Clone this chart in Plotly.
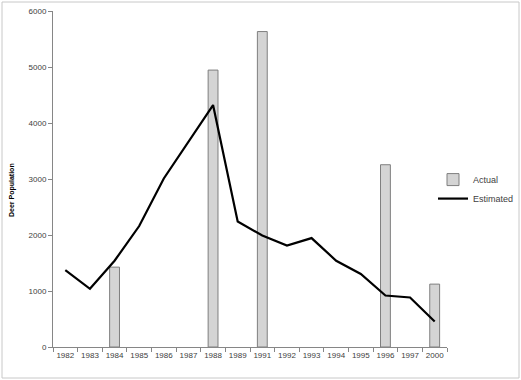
import plotly.graph_objects as go

categories = ["1982", "1983", "1984", "1985", "1986", "1987", "1988", "1989",
              "1991", "1992", "1993", "1994", "1995", "1996", "1997", "2000"]
estimated = [1373, 1040, 1540, 2160, 3010, 3660, 4320, 2240,
             1990, 1810, 1945, 1540, 1305, 920, 885, 455]
actual_years = ["1984", "1988", "1991", "1996", "2000"]
actual_values = [1426, 4945, 5633, 3255, 1123]
y_ticks = [0, 1000, 2000, 3000, 4000, 5000, 6000]

W, H = 521, 380
L, R, T, B = 53, 74, 11, 33
pw, ph = W - L - R, H - T - B

fig = go.Figure()
fig.add_trace(go.Bar(
    x=actual_years, y=actual_values, name="Actual", width=0.4,
    marker=dict(color="#d4d4d4", line=dict(color="#7f7f7f", width=1)),
))
fig.add_trace(go.Scatter(
    x=categories, y=estimated, name="Estimated", mode="lines",
    line=dict(color="black", width=2.2),
))

axis_font = dict(family="Liberation Sans, Arial, sans-serif", size=8, color="#404040")
fig.update_layout(
    width=W, height=H,
    margin=dict(l=L, r=R, t=T, b=B, autoexpand=False),
    paper_bgcolor="white", plot_bgcolor="white",
    showlegend=True,
    legend=dict(x=(433 - L) / pw, y=0.47, xanchor="left", yanchor="middle",
                font=dict(family="Liberation Sans, Arial, sans-serif", size=9, color="#404040"),
                bgcolor="rgba(0,0,0,0)", tracegroupgap=0, itemwidth=30),
    xaxis=dict(type="category", categoryorder="array", categoryarray=categories,
               range=[-0.5, len(categories) - 0.5], automargin=False,
               showline=True, linecolor="#868686", linewidth=1, tickangle=0,
               ticks="outside", tickson="boundaries", ticklen=4, tickcolor="#868686",
               showgrid=False, zeroline=False, tickfont=axis_font),
    yaxis=dict(range=[0, 6000], tickvals=y_ticks, automargin=False,
               showline=True, linecolor="#868686", linewidth=1,
               ticks="outside", ticklen=4, tickcolor="#868686",
               showgrid=False, zeroline=False, tickfont=axis_font),
    annotations=[dict(text="<b>Deer Population</b>", textangle=-90,
                      xref="paper", yref="paper", x=(12 - L) / pw, y=(H - B - 190) / ph,
                      xanchor="center", yanchor="middle", showarrow=False,
                      font=dict(family="Liberation Sans, Arial, sans-serif", size=7, color="black"))],
    shapes=[dict(type="rect", xref="paper", yref="paper",
                 x0=(2 - L) / pw, x1=(W - 2 - L) / pw,
                 y0=(H - B - (H - 2)) / ph, y1=(H - B - 2) / ph,
                 line=dict(color="#c8c8c8", width=1), fillcolor="rgba(0,0,0,0)")],
)

fig.write_html("out.html", config={"displayModeBar": False},
               post_script="document.body.style.margin='0';document.body.style.overflow='hidden';")
